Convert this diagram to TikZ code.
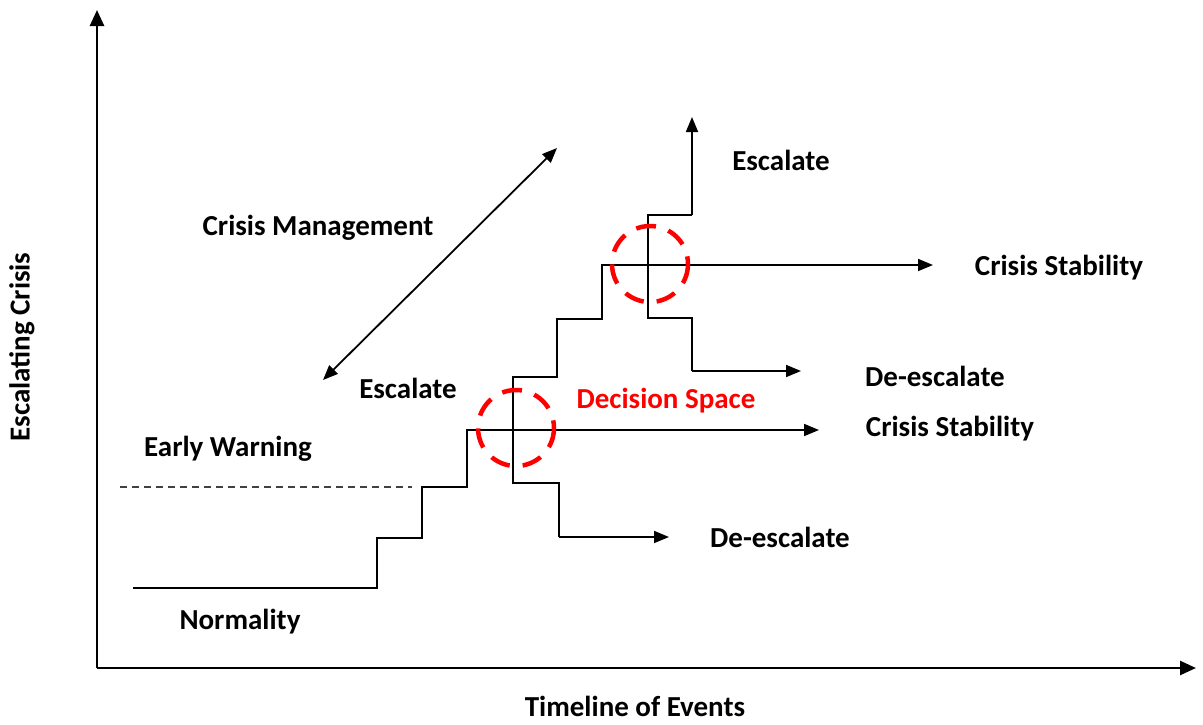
\documentclass[tikz,border=0pt]{standalone}
\usepackage{fontspec}
\setmainfont{Carlito}
\usetikzlibrary{arrows.meta}
\begin{document}
\begin{tikzpicture}[x=1pt,y=-1pt,
  lbl/.style={font=\fontsize{29}{32}\selectfont\bfseries, inner sep=0pt},
  axis/.style={line width=2.6pt, -{Triangle[length=16pt,width=14pt]}},
  stair/.style={line width=1.8pt},
  arr/.style={line width=1.8pt, -{Triangle[length=15pt,width=12pt]}},
  ring/.style={draw=red, line width=4.5pt, dash pattern=on 20pt off 13pt}]
\useasboundingbox (0,0) rectangle (1203,724);
% axes
\coordinate (O) at (97,668);
\coordinate (Ytop) at (97,10);
\coordinate (Xend) at (1196,668);
\draw[axis] (O) -- (Ytop);
\draw[axis] (O) -- (Xend);
% staircase lower
\coordinate (s0) at (133,588);
\coordinate (s1) at (377,588);
\coordinate (s2) at (377,538);
\coordinate (s3) at (422,538);
\coordinate (s4) at (422,487);
\coordinate (s5) at (467,487);
\coordinate (s6) at (467,430);
\coordinate (c1) at (513,430);
\draw[stair] (s0) -- (s1) -- (s2) -- (s3) -- (s4) -- (s5) -- (s6) -- (c1);
% lower branches
\coordinate (d1) at (513,483);
\coordinate (d2) at (559,483);
\coordinate (d3) at (559,537);
\coordinate (d4) at (669,537);
\draw[stair] (c1) -- (d1) -- (d2) -- (d3);
\draw[arr] (d3) -- (d4);
\coordinate (cs1) at (819,430);
\draw[arr] (c1) -- (cs1);
% middle staircase
\coordinate (m1) at (513,377);
\coordinate (m2) at (557,377);
\coordinate (m3) at (557,319);
\coordinate (m4) at (602,319);
\coordinate (m5) at (602,265);
\coordinate (c2) at (648,265);
\draw[stair] (c1) -- (m1) -- (m2) -- (m3) -- (m4) -- (m5) -- (c2);
% upper branches
\coordinate (u1) at (648,215);
\coordinate (u2) at (692,215);
\coordinate (u3) at (692,117);
\draw[stair] (c2) -- (u1) -- (u2);
\draw[arr] (u2) -- (u3);
\coordinate (e1) at (648,318);
\coordinate (e2) at (692,318);
\coordinate (e3) at (692,371);
\coordinate (e4) at (801,371);
\draw[stair] (c2) -- (e1) -- (e2) -- (e3);
\draw[arr] (e3) -- (e4);
\coordinate (cs2) at (933,265);
\draw[arr] (c2) -- (cs2);
% dashed early warning
\coordinate (w0) at (120,487);
\coordinate (w1) at (412,487);
\draw[line width=1.4pt, dash pattern=on 7pt off 5pt, black!75] (w0) -- (w1);
% double arrow
\coordinate (dm0) at (323,380);
\coordinate (dm1) at (557,148);
\draw[line width=1.8pt, {Triangle[length=15pt,width=12pt]}-{Triangle[length=15pt,width=12pt]}] (dm0) -- (dm1);
% rings
\draw[ring] (516,428) circle[radius=38];
\draw[ring] (650,264) circle[radius=38];
% labels
\node[lbl] (tEsc1) at (781,160) {Escalate};
\node[lbl] (tCM) at (318,228) {Crisis Management};
\node[lbl] (tCS1) at (1059,268) {Crisis Stability};
\node[lbl] (tDe1) at (935,376) {De-escalate};
\node[lbl] (tEsc2) at (408,388) {Escalate};
\node[lbl, text=red] (tDS) at (666,401) {Decision Space};
\node[lbl] (tCS2) at (950,429) {Crisis Stability};
\node[lbl] (tEW) at (228,449) {Early Warning};
\node[lbl] (tDe2) at (780,537) {De-escalate};
\node[lbl] (tNo) at (240,622) {Normality};
\node[lbl, anchor=base] (tTL) at (635,716) {Timeline of Events};
\node[lbl, rotate=90] (tEC) at (22,347) {Escalating Crisis};
\end{tikzpicture}
\end{document}
